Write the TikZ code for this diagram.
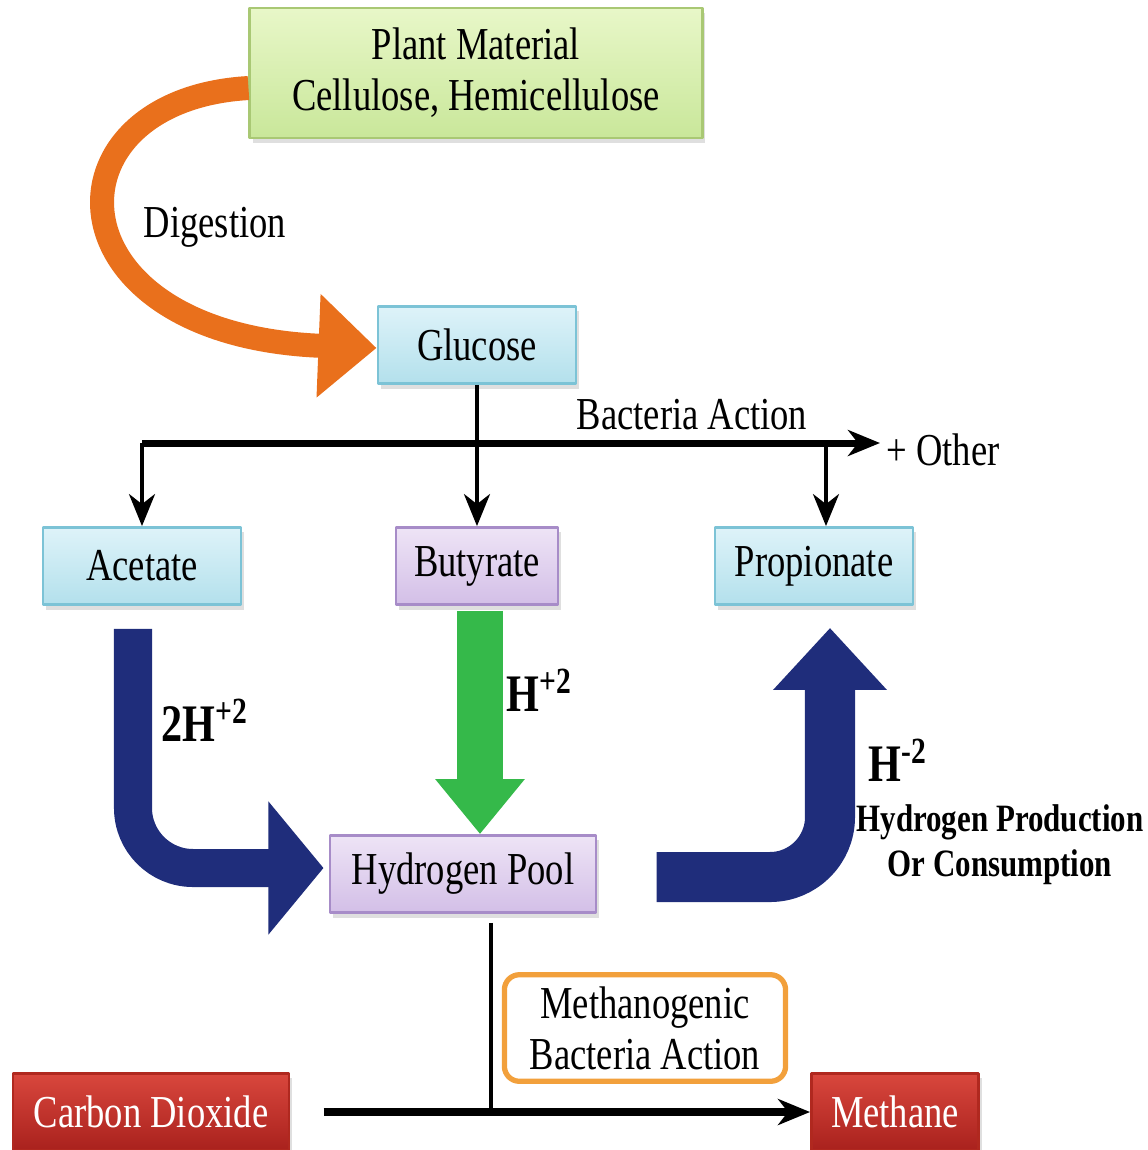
\documentclass[tikz,border=0pt]{standalone}
\usepackage{fontspec}
\setmainfont{Liberation Serif}[FakeStretch=0.8]
\usetikzlibrary{arrows.meta,shadows}
\definecolor{greentop}{HTML}{E8F7C8}
\definecolor{greenbot}{HTML}{C9E79A}
\definecolor{greenedge}{HTML}{A9C874}
\definecolor{bluetop}{HTML}{DEF3F9}
\definecolor{bluebot}{HTML}{B3E0EC}
\definecolor{blueedge}{HTML}{7CC3D6}
\definecolor{lilactop}{HTML}{EEE4F6}
\definecolor{lilacbot}{HTML}{D3BFE7}
\definecolor{lilacedge}{HTML}{A78CC8}
\definecolor{redtop}{HTML}{D9473D}
\definecolor{redbot}{HTML}{A9211D}
\definecolor{rededge}{HTML}{B0281F}
\definecolor{orangeedge}{HTML}{F2A03C}
\definecolor{orangefill}{HTML}{E9701C}
\definecolor{navy}{HTML}{1F2D7B}
\definecolor{leaf}{HTML}{35B94A}
\begin{document}
\begin{tikzpicture}[x=0.01cm, y=-0.01cm, font=\fontsize{13}{14.5}\selectfont, line join=round,
	>={Stealth[length=0.32cm, width=0.26cm, inset=0.1cm]},
	box/.style={draw, line width=0.8pt, align=center, inner sep=0pt, minimum height=0.77cm,
		drop shadow={shadow xshift=0.03cm, shadow yshift=-0.05cm, opacity=0.25}},
	greenbox/.style={box, draw=greenedge, top color=greentop, bottom color=greenbot},
	bluebox/.style={box, draw=blueedge, top color=bluetop, bottom color=bluebot, minimum width=1.98cm},
	lilacbox/.style={box, draw=lilacedge, top color=lilactop, bottom color=lilacbot},
	redbox/.style={box, draw=rededge, top color=redtop, bottom color=redbot, text=white},
	fatarrow/.style={line width=#1},
	busline/.style={line width=2pt},
	branch/.style={->, line width=1.1pt},
	hlabel/.style={font=\fontsize{15}{17}\selectfont\bfseries}]
	\useasboundingbox (0,0) rectangle (1148,1150);
	
	% Cac hop
	\node[greenbox, minimum width=4.52cm, minimum height=1.3cm] (plant) at (476,73) {Plant Material\\Cellulose, Hemicellulose};
	\node[bluebox] (glucose) at (477,345) {Glucose};
	\node[bluebox] (acetate) at (142,566) {Acetate};
	\node[lilacbox, minimum width=1.62cm] (butyrate) at (477,566) {Butyrate};
	\node[bluebox] (propionate) at (814,566) {Propionate};
	\node[lilacbox, minimum width=2.66cm] (pool) at (463,874) {Hydrogen Pool};
	\node[redbox, minimum width=2.76cm] (co2) at (151,1112) {Carbon Dioxide};
	\node[redbox, minimum width=1.67cm] (methane) at (895,1112) {Methane};
	\node[draw=orangeedge, line width=1.5pt, rounded corners=0.15cm, minimum width=2.81cm,
		minimum height=1cm, align=center] (methano) at (645,1028) {Methanogenic\\Bacteria Action};
	
	% Mui ten tieu hoa
	\draw[fatarrow=0.24cm, orangefill, -{Triangle[length=0.58cm, width=1cm]}]
		([yshift=-0.15cm]plant.west) .. controls (40,100) and (45,335) .. ([yshift=-0.03cm]glucose.west);
	\node at (215,227) {Digestion};
	
	% Tac dong cua vi khuan
	\coordinate (bus) at (0,443);
	\coordinate (other) at (880,443);
	\draw[busline, ->] (acetate.north |- bus) -- (other);
	\node[right] at ([xshift=-0.06cm, yshift=-0.07cm]other) {+ Other};
	\node at (692,415) {Bacteria Action};
	\draw[branch] (acetate.north |- bus) -- (acetate.north);
	\draw[branch] (glucose.south) -- (butyrate.north);
	\draw[branch] ([xshift=0.12cm]propionate.north |- bus) -- ([xshift=0.12cm]propionate.north);
	
	% Cac mui ten hydro
	\draw[fatarrow=0.38cm, navy, rounded corners=0.6cm, -{Triangle[length=0.55cm, width=1.3cm]}]
		([xshift=-0.09cm, yshift=-0.23cm]acetate.south) |- ([xshift=-0.05cm, yshift=0.06cm]pool.west);
	\draw[fatarrow=0.46cm, leaf, -{Triangle[length=0.55cm, width=0.86cm]}]
		([xshift=0.03cm, yshift=-0.05cm]butyrate.south) -- ([xshift=0.03cm]butyrate.south |- pool.north);
	\draw[fatarrow=0.5cm, navy, rounded corners=0.6cm, -{Triangle[length=0.62cm, width=1.1cm]}]
		([xshift=0.59cm, yshift=-0.03cm]pool.east) -| ([xshift=0.16cm, yshift=-0.22cm]propionate.south);
	\node[hlabel] at (205,720) {2H\textsuperscript{+2}};
	\node[hlabel] at (540,690) {H\textsuperscript{+2}};
	\node[hlabel] at (898,760) {H\textsuperscript{-2}};
	\node[align=center, font=\fontsize{11}{12.8}\selectfont\bfseries] at (1000,845) {Hydrogen Production\\Or Consumption};
	
	% Tao metan
	\draw[line width=1.2pt] ([xshift=0.28cm, yshift=-0.09cm]pool.south) -- ([xshift=0.28cm]pool.south |- co2.east);
	\draw[busline, ->, shorten <=0.33cm] (co2.east) -- (methane.west);
\end{tikzpicture}
\end{document}
